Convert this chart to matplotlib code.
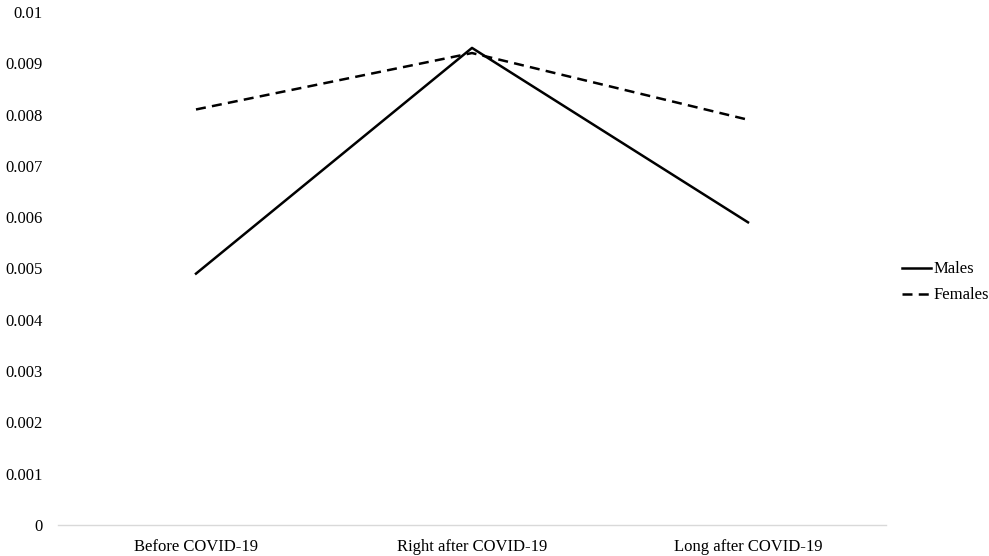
import matplotlib
matplotlib.use("Agg")
import matplotlib.pyplot as plt

categories = ["Before COVID-19", "Right after COVID-19", "Long after COVID-19"]
males = [0.0049, 0.0093, 0.0059]
females = [0.0081, 0.0092, 0.0079]
yticks = [0, 0.001, 0.002, 0.003, 0.004, 0.005, 0.006, 0.007, 0.008, 0.009, 0.01]
ytick_labels = ["0", "0.001", "0.002", "0.003", "0.004", "0.005", "0.006", "0.007", "0.008", "0.009", "0.01"]

plt.rcParams['font.family'] = ['Liberation Serif', 'DejaVu Serif']
FS = 12

fig = plt.figure(figsize=(9.89, 5.56), dpi=100)
ax = fig.add_axes([58/989, 31/556, (886-58)/989, (525-12)/556])

x = list(range(len(categories)))
ax.plot(x, males, color='black', lw=1.8, label='Males')
ax.plot(x, females, color='black', lw=1.8, ls=(0, (4, 2.5)), label='Females')

ax.set_xlim(-0.5, len(categories) - 0.5)
ax.set_ylim(0, 0.01)
ax.set_xticks(x)
ax.set_xticklabels(categories, fontsize=FS)
ax.set_yticks(yticks)
ax.set_yticklabels(ytick_labels, fontsize=FS)
ax.tick_params(axis='x', length=0, pad=10)
ax.tick_params(axis='y', length=0, pad=11)
for s in ['top', 'right', 'left']:
    ax.spines[s].set_visible(False)
ax.spines['bottom'].set_color('#d9d9d9')
ax.spines['bottom'].set_linewidth(1.0)

leg = ax.legend(loc='center left', bbox_to_anchor=(1.019, 0.473), frameon=False,
                fontsize=FS, handlelength=1.75, handletextpad=0.15, labelspacing=0.6,
                borderaxespad=0.0, borderpad=0.0)

fig.savefig("out.png", dpi=100, facecolor='white')
